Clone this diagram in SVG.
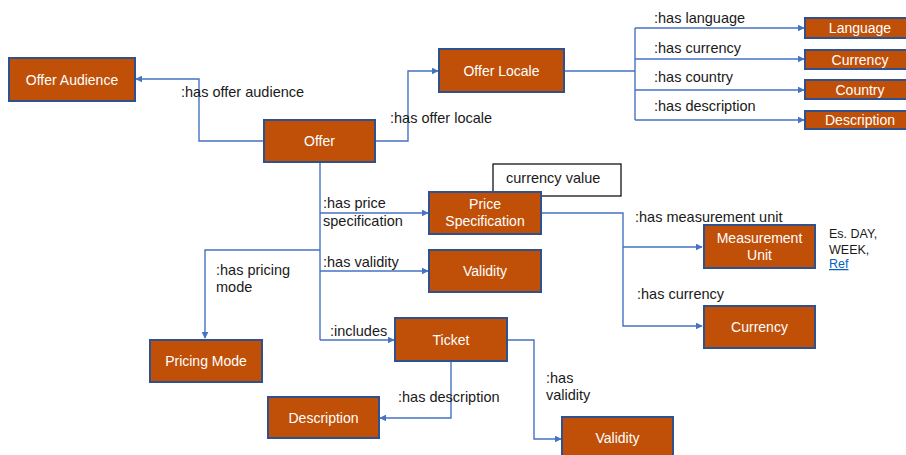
<svg xmlns="http://www.w3.org/2000/svg" width="906" height="455" viewBox="0 0 906 455">
  <style>
    .box { fill: #C05008; stroke: #2F528F; stroke-width: 2; }
    .name { fill: #FFFFFF; font-family: "Liberation Sans", Arial, sans-serif; font-size: 14px; text-anchor: middle; }
    .edge { fill: none; stroke: #4472C4; stroke-width: 1.4; }
    .lbl { fill: #1A1A1A; font-family: "Liberation Sans", Arial, sans-serif; font-size: 14.5px; }
    .note { fill: #1A1A1A; font-family: "Liberation Sans", Arial, sans-serif; font-size: 12.5px; }
  </style>
  <defs>
    <marker id="arrow" viewBox="0 0 10 10" refX="9" refY="5" markerWidth="7" markerHeight="7" orient="auto" markerUnits="userSpaceOnUse">
      <path d="M0,0 L10,5 L0,10 z" fill="#4472C4"/>
    </marker>
  </defs>
  <rect width="906" height="455" fill="#FFFFFF"/>

  <!-- connectors -->
  <g id="connectors">
    <path class="edge" d="M264,141 H199 V79 H136" marker-end="url(#arrow)"/>
    <path class="edge" d="M375,141 H408 V71 H438" marker-end="url(#arrow)"/>
    <path class="edge" d="M564,71 H635"/>
    <path class="edge" d="M635,28 V120"/>
    <path class="edge" d="M635,28 H804" marker-end="url(#arrow)"/>
    <path class="edge" d="M635,59 H804" marker-end="url(#arrow)"/>
    <path class="edge" d="M635,90 H804" marker-end="url(#arrow)"/>
    <path class="edge" d="M635,120 H804" marker-end="url(#arrow)"/>
    <path class="edge" d="M320,162 V340"/>
    <path class="edge" d="M320,213 H428" marker-end="url(#arrow)"/>
    <path class="edge" d="M320,271 H428" marker-end="url(#arrow)"/>
    <path class="edge" d="M320,250 H205 V338" marker-end="url(#arrow)"/>
    <path class="edge" d="M320,340 H394" marker-end="url(#arrow)"/>
    <path class="edge" d="M451,361 V418 H380" marker-end="url(#arrow)"/>
    <path class="edge" d="M507,340 H534 V439 H561" marker-end="url(#arrow)"/>
    <path class="edge" d="M541,213 H623 V326 H702" marker-end="url(#arrow)"/>
    <path class="edge" d="M623,247 H702" marker-end="url(#arrow)"/>
  </g>

  <!-- edge labels -->
  <g id="edge-labels">
    <text class="lbl" x="181" y="97">:has offer audience</text>
    <text class="lbl" x="390" y="123">:has offer locale</text>
    <text class="lbl" x="654" y="23">:has language</text>
    <text class="lbl" x="654" y="53">:has currency</text>
    <text class="lbl" x="654" y="82">:has country</text>
    <text class="lbl" x="654" y="111">:has description</text>
    <text class="lbl" x="323" y="208">:has price</text>
    <text class="lbl" x="323" y="226">specification</text>
    <text class="lbl" x="323" y="267">:has validity</text>
    <text class="lbl" x="216" y="275">:has pricing</text>
    <text class="lbl" x="216" y="292">mode</text>
    <text class="lbl" x="330" y="336">:includes</text>
    <text class="lbl" x="398" y="402">:has description</text>
    <text class="lbl" x="546" y="383">:has</text>
    <text class="lbl" x="546" y="400">validity</text>
    <text class="lbl" x="635" y="222">:has measurement unit</text>
    <text class="lbl" x="637" y="299">:has currency</text>
  </g>

  <!-- currency value note (sits behind Price Specification) -->
  <g id="currency-value">
    <rect x="493" y="164" width="128" height="32" fill="#FFFFFF" stroke="#000000" stroke-width="1.2"/>
    <text class="lbl" x="506" y="183">currency value</text>
  </g>

  <!-- nodes -->
  <g id="offer-audience">
    <rect class="box" x="9" y="58" width="126" height="43"/>
    <text class="name" x="72" y="84.5">Offer Audience</text>
  </g>
  <g id="offer">
    <rect class="box" x="264" y="120" width="111" height="42"/>
    <text class="name" x="319.5" y="146">Offer</text>
  </g>
  <g id="offer-locale">
    <rect class="box" x="439" y="49" width="125" height="43"/>
    <text class="name" x="501.5" y="75.5">Offer Locale</text>
  </g>
  <g id="language">
    <rect class="box" x="805" y="18" width="108" height="20"/>
    <text class="name" x="860" y="33">Language</text>
  </g>
  <g id="locale-currency">
    <rect class="box" x="805" y="50" width="108" height="19"/>
    <text class="name" x="860" y="64.5">Currency</text>
  </g>
  <g id="country">
    <rect class="box" x="805" y="80" width="108" height="19"/>
    <text class="name" x="860" y="94.5">Country</text>
  </g>
  <g id="locale-description">
    <rect class="box" x="805" y="111" width="108" height="18"/>
    <text class="name" x="860" y="125">Description</text>
  </g>
  <g id="price-specification">
    <rect class="box" x="429" y="192" width="112" height="42"/>
    <text class="name" x="485" y="209">Price</text>
    <text class="name" x="485" y="226">Specification</text>
  </g>
  <g id="validity">
    <rect class="box" x="429" y="250" width="112" height="42"/>
    <text class="name" x="485" y="276">Validity</text>
  </g>
  <g id="pricing-mode">
    <rect class="box" x="150" y="340" width="112" height="42"/>
    <text class="name" x="206" y="366">Pricing Mode</text>
  </g>
  <g id="ticket">
    <rect class="box" x="395" y="318" width="112" height="43"/>
    <text class="name" x="451" y="344.5">Ticket</text>
  </g>
  <g id="ticket-description">
    <rect class="box" x="268" y="397" width="111" height="41"/>
    <text class="name" x="323.5" y="422.5">Description</text>
  </g>
  <g id="ticket-validity">
    <rect class="box" x="562" y="417" width="111" height="42"/>
    <text class="name" x="617.5" y="443">Validity</text>
  </g>
  <g id="measurement-unit">
    <rect class="box" x="704" y="225" width="111" height="43"/>
    <text class="name" x="759.5" y="243">Measurement</text>
    <text class="name" x="759.5" y="260">Unit</text>
  </g>
  <g id="spec-currency">
    <rect class="box" x="704" y="306" width="111" height="42"/>
    <text class="name" x="759.5" y="332">Currency</text>
  </g>

  <!-- measurement unit examples -->
  <g id="unit-note">
    <text class="note" x="829" y="238">Es. DAY,</text>
    <text class="note" x="829" y="254">WEEK,</text>
    <text class="note" x="829" y="268" fill="#0563C1" text-decoration="underline" style="fill:#0563C1">Ref</text>
  </g>
</svg>
